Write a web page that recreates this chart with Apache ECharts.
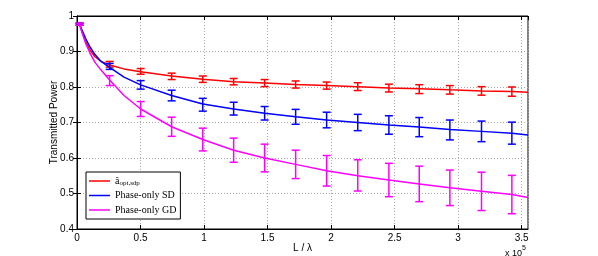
<!DOCTYPE html>
<html>
<head>
<meta charset="utf-8">
<script src="https://cdn.jsdelivr.net/npm/echarts@6/dist/echarts.min.js"></script>
<style>html,body{margin:0;padding:0;background:#fff}#c{width:598px;height:256px}</style>
</head>
<body>
<div id="c"></div>
<script>
// L / lambda in units of 1e5
var barX = [0.02, 0.257, 0.501, 0.745, 0.99, 1.233, 1.477, 1.721, 1.965, 2.21, 2.455, 2.694, 2.935, 3.184, 3.423];
var redMean = [0.977, 0.864, 0.844, 0.830, 0.822, 0.815, 0.811, 0.807, 0.804, 0.801, 0.797, 0.794, 0.792, 0.789, 0.787];
var redErr  = [0.003, 0.008, 0.008, 0.009, 0.009, 0.009, 0.010, 0.010, 0.010, 0.011, 0.011, 0.0125, 0.012, 0.012, 0.013];
var blueMean = [0.977, 0.858, 0.806, 0.776, 0.750, 0.739, 0.726, 0.716, 0.707, 0.700, 0.693, 0.687, 0.679, 0.675, 0.670];
var blueErr  = [0.003, 0.0084, 0.012, 0.015, 0.018, 0.018, 0.019, 0.021, 0.022, 0.023, 0.026, 0.027, 0.028, 0.029, 0.031];
var magMean = [0.977, 0.818, 0.738, 0.688, 0.652, 0.622, 0.600, 0.582, 0.564, 0.551, 0.538, 0.527, 0.516, 0.506, 0.497];
var magErr  = [0.003, 0.014, 0.021, 0.027, 0.032, 0.034, 0.039, 0.040, 0.043, 0.044, 0.047, 0.050, 0.050, 0.054, 0.054];

// fitted curves
var curveX = [0.02, 0.04, 0.07, 0.1, 0.14, 0.186, 0.257, 0.37, 0.501, 0.745, 0.99, 1.233, 1.477, 1.721, 1.965, 2.21, 2.455, 2.694, 2.935, 3.184, 3.423, 3.55];
var redCurve  = [0.977, 0.955, 0.927, 0.905, 0.886, 0.873, 0.862, 0.851, 0.843, 0.831, 0.822, 0.815, 0.811, 0.807, 0.804, 0.801, 0.797, 0.795, 0.792, 0.789, 0.787, 0.785];
var blueCurve = [0.977, 0.960, 0.935, 0.914, 0.892, 0.873, 0.855, 0.828, 0.806, 0.776, 0.752, 0.738, 0.726, 0.716, 0.707, 0.700, 0.693, 0.687, 0.680, 0.675, 0.670, 0.665];
var magCurve  = [0.977, 0.953, 0.921, 0.897, 0.870, 0.849, 0.820, 0.776, 0.738, 0.688, 0.652, 0.622, 0.600, 0.582, 0.564, 0.550, 0.538, 0.527, 0.516, 0.506, 0.497, 0.489];

var seriesNames = ['a_opt', 'Phase-only SD', 'Phase-only GD'];
var colors = ['#ff0000', '#0000ff', '#ff00ff'];

function pairs(xs, ys) { return xs.map(function (x, i) { return [x, ys[i]]; }); }
function bars(xs, m, e) { return xs.map(function (x, i) { return [x, m[i] - e[i], m[i] + e[i]]; }); }

function errRender(color) {
  return function (params, api) {
    var x = api.value(0);
    var lo = api.coord([x, api.value(1)]);
    var hi = api.coord([x, api.value(2)]);
    var w = 4;
    var st = { stroke: color, lineWidth: 1.5 };
    return {
      type: 'group',
      children: [
        { type: 'line', shape: { x1: lo[0], y1: lo[1], x2: hi[0], y2: hi[1] }, style: st },
        { type: 'line', shape: { x1: lo[0] - w, y1: lo[1], x2: lo[0] + w, y2: lo[1] }, style: st },
        { type: 'line', shape: { x1: hi[0] - w, y1: hi[1], x2: hi[0] + w, y2: hi[1] }, style: st }
      ]
    };
  };
}

var font = 'Liberation Sans, Arial, sans-serif';
var chart = echarts.init(document.getElementById('c'), null, { renderer: 'canvas' });
var curves = [redCurve, blueCurve, magCurve];
var means = [redMean, blueMean, magMean];
var errs = [redErr, blueErr, magErr];
var series = [];
for (var k = 0; k < 3; k++) {
  series.push({
    name: seriesNames[k], type: 'line', data: pairs(curveX, curves[k]),
    smooth: false, symbol: 'none', z: 3 + k,
    lineStyle: { color: colors[k], width: 1.5 }, itemStyle: { color: colors[k] }
  });
  series.push({
    type: 'custom', data: bars(barX, means[k], errs[k]), renderItem: errRender(colors[k]),
    encode: { x: 0, y: [1, 2] }, z: 3 + k, silent: true
  });
}

chart.setOption({
  animation: false,
  grid: { left: 77, right: 70, top: 16, bottom: 27, show: true, borderColor: '#000', borderWidth: 1,
    backgroundColor: '#fff', outerBoundsMode: 'none', containLabel: false },
  xAxis: [{
    type: 'value', min: 0, max: 3.55, interval: 0.5,
    name: 'L / λ', nameLocation: 'middle', nameGap: 14, nameMoveOverlap: false,
    nameTextStyle: { fontFamily: font, fontSize: 10, color: '#000' },
    axisLine: { show: true, lineStyle: { color: '#000' } },
    axisTick: { show: true, inside: true, length: 4, lineStyle: { color: '#000' } },
    axisLabel: { fontFamily: font, fontSize: 10, color: '#000', margin: 4,
      formatter: function (v) { return String(v); } },
    splitLine: { show: true, lineStyle: { color: '#a8a8a8', type: [1, 2], width: 1 } }
  }, {
    type: 'value', min: 0, max: 3.55, interval: 0.5, position: 'top',
    axisLine: { show: true, lineStyle: { color: '#000' } },
    axisTick: { show: true, inside: true, length: 4, lineStyle: { color: '#000' } },
    axisLabel: { show: false }, splitLine: { show: false }
  }],
  yAxis: [{
    type: 'value', min: 0.4, max: 1, interval: 0.1,
    name: 'Transmitted Power', nameLocation: 'middle', nameGap: 18, nameMoveOverlap: false,
    nameTextStyle: { fontFamily: font, fontSize: 10, color: '#000' },
    axisLine: { show: true, lineStyle: { color: '#000' } },
    axisTick: { show: true, inside: true, length: 4, lineStyle: { color: '#000' } },
    axisLabel: { fontFamily: font, fontSize: 10, color: '#000', margin: 3,
      formatter: function (v) { return Math.abs(v - 1) < 1e-9 ? '1' : v.toFixed(1); } },
    splitLine: { show: true, lineStyle: { color: '#a8a8a8', type: [1, 2], width: 1 } }
  }, {
    type: 'value', min: 0.4, max: 1, interval: 0.1, position: 'right',
    axisLine: { show: true, lineStyle: { color: '#000' } },
    axisTick: { show: true, inside: true, length: 4, lineStyle: { color: '#000' } },
    axisLabel: { show: false }, splitLine: { show: false }
  }],
  legend: {
    data: seriesNames.map(function (n) { return { name: n, icon: 'rect' }; }),
    orient: 'vertical', left: 86, top: 172,
    backgroundColor: '#fff', borderColor: '#000', borderWidth: 1, borderRadius: 0,
    padding: [3, 4, 3, 3], itemGap: 2.5, itemWidth: 21, itemHeight: 1.5,
    textStyle: { fontFamily: 'Liberation Serif, Times New Roman, serif', fontSize: 10, color: '#000', lineHeight: 12,
      rich: {
        a: { fontFamily: 'Liberation Serif, serif', fontSize: 10, color: '#000' },
        s: { fontFamily: 'Liberation Serif, serif', fontSize: 7, color: '#000', verticalAlign: 'bottom', padding: [4, 0, 0, 0] }
      } },
    formatter: function (n) { return n === 'a_opt' ? '{a|â}{s|opt,sdp}' : n; }
  },
  graphic: [{
    type: 'text', left: 505, top: 245,
    style: { text: '{n|x 10}{p|5}', rich: {
      n: { fontFamily: font, fontSize: 9, fill: '#000', padding: [4, 0, 0, 0] },
      p: { fontFamily: font, fontSize: 7, fill: '#000', verticalAlign: 'top' } } }
  }],
  series: series
});
</script>
</body>
</html>
